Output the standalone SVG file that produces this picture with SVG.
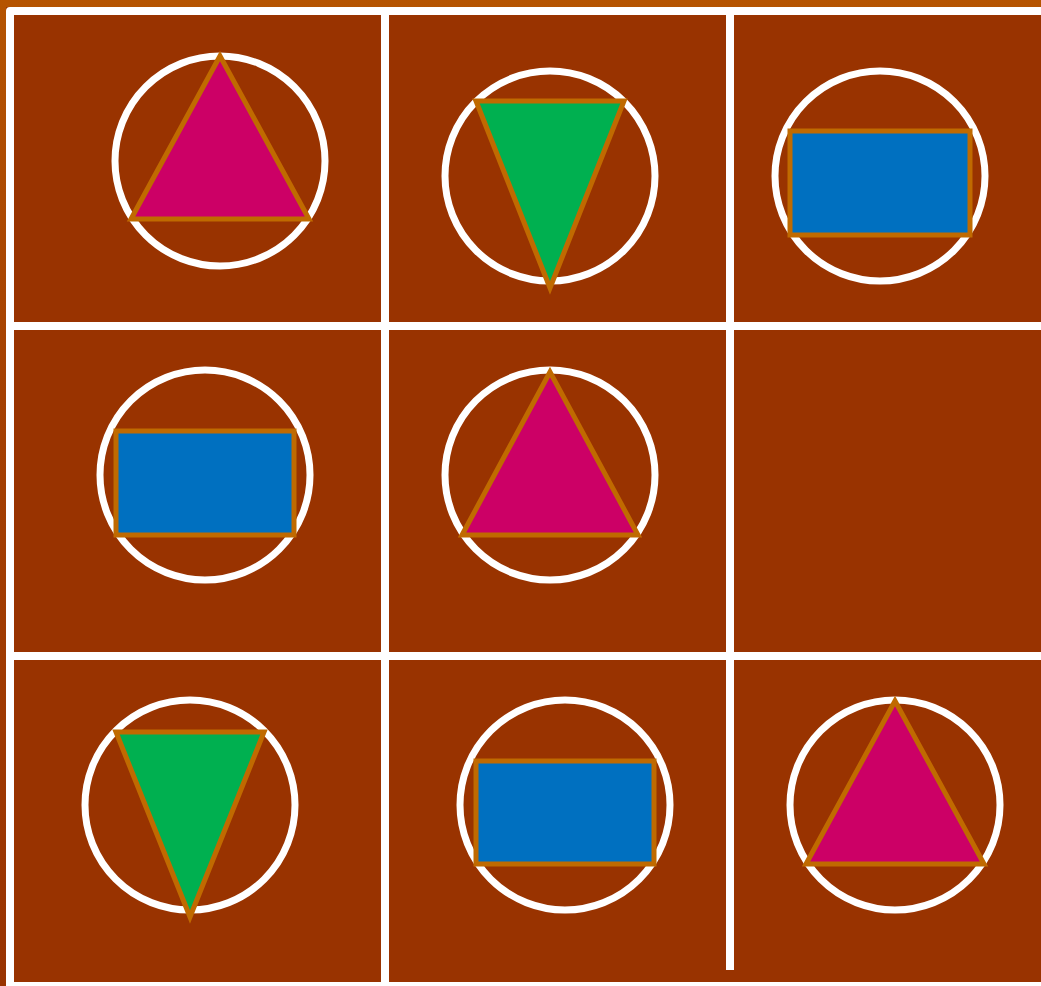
<svg xmlns="http://www.w3.org/2000/svg" width="1041" height="986" viewBox="0 0 1041 986">
<defs>
<linearGradient id="bg" x1="0" y1="0" x2="0" y2="1">
<stop offset="0" stop-color="#b55400"/>
<stop offset="0.4" stop-color="#a54000"/>
<stop offset="1" stop-color="#993300"/>
</linearGradient>
</defs>
<style>
.ring{fill:none;stroke:#ffffff;stroke-width:7}
.shape{stroke:#c06a00;stroke-width:5;stroke-linejoin:miter}
.tri{fill:#cc0066}
.inv{fill:#00b050}
.box{fill:#0070c0}
.grid{stroke:#ffffff;stroke-width:8;fill:none}
</style>
<rect x="0" y="0" width="1041" height="986" fill="url(#bg)"/>
<rect x="6" y="7" width="1035" height="979" fill="#993300"/>
<g id="grid">
<path class="grid" d="M10,986 L10,11 L1041,11" stroke-linejoin="round"/>
<line class="grid" x1="385" y1="11" x2="385" y2="986"/>
<line class="grid" x1="730" y1="11" x2="730" y2="970"/>
<line class="grid" x1="10" y1="326" x2="1041" y2="326"/>
<line class="grid" x1="10" y1="656" x2="1041" y2="656"/>
<line class="grid" x1="6" y1="986" x2="1041" y2="986"/>
</g>
<g id="cell-1-1">
<circle class="ring" cx="220" cy="161" r="105"/>
<polygon class="shape tri" points="220,56 131,219 309,219"/>
</g>
<g id="cell-1-2">
<circle class="ring" cx="550" cy="176" r="105"/>
<polygon class="shape inv" points="476,101 624,101 550,288"/>
</g>
<g id="cell-1-3">
<circle class="ring" cx="880" cy="176" r="105"/>
<rect class="shape box" x="790" y="131" width="180" height="104"/>
</g>
<g id="cell-2-1">
<circle class="ring" cx="205" cy="475" r="105"/>
<rect class="shape box" x="116" y="431" width="178" height="104"/>
</g>
<g id="cell-2-2">
<circle class="ring" cx="550" cy="475" r="105"/>
<polygon class="shape tri" points="550,372 462,535 638,535"/>
</g>
<g id="cell-3-1">
<circle class="ring" cx="190" cy="805" r="105"/>
<polygon class="shape inv" points="116,732 264,732 190,917"/>
</g>
<g id="cell-3-2">
<circle class="ring" cx="565" cy="805" r="105"/>
<rect class="shape box" x="476" y="761" width="178" height="103"/>
</g>
<g id="cell-3-3">
<circle class="ring" cx="895" cy="805" r="105"/>
<polygon class="shape tri" points="895,701 806,864 984,864"/>
</g>
</svg>
